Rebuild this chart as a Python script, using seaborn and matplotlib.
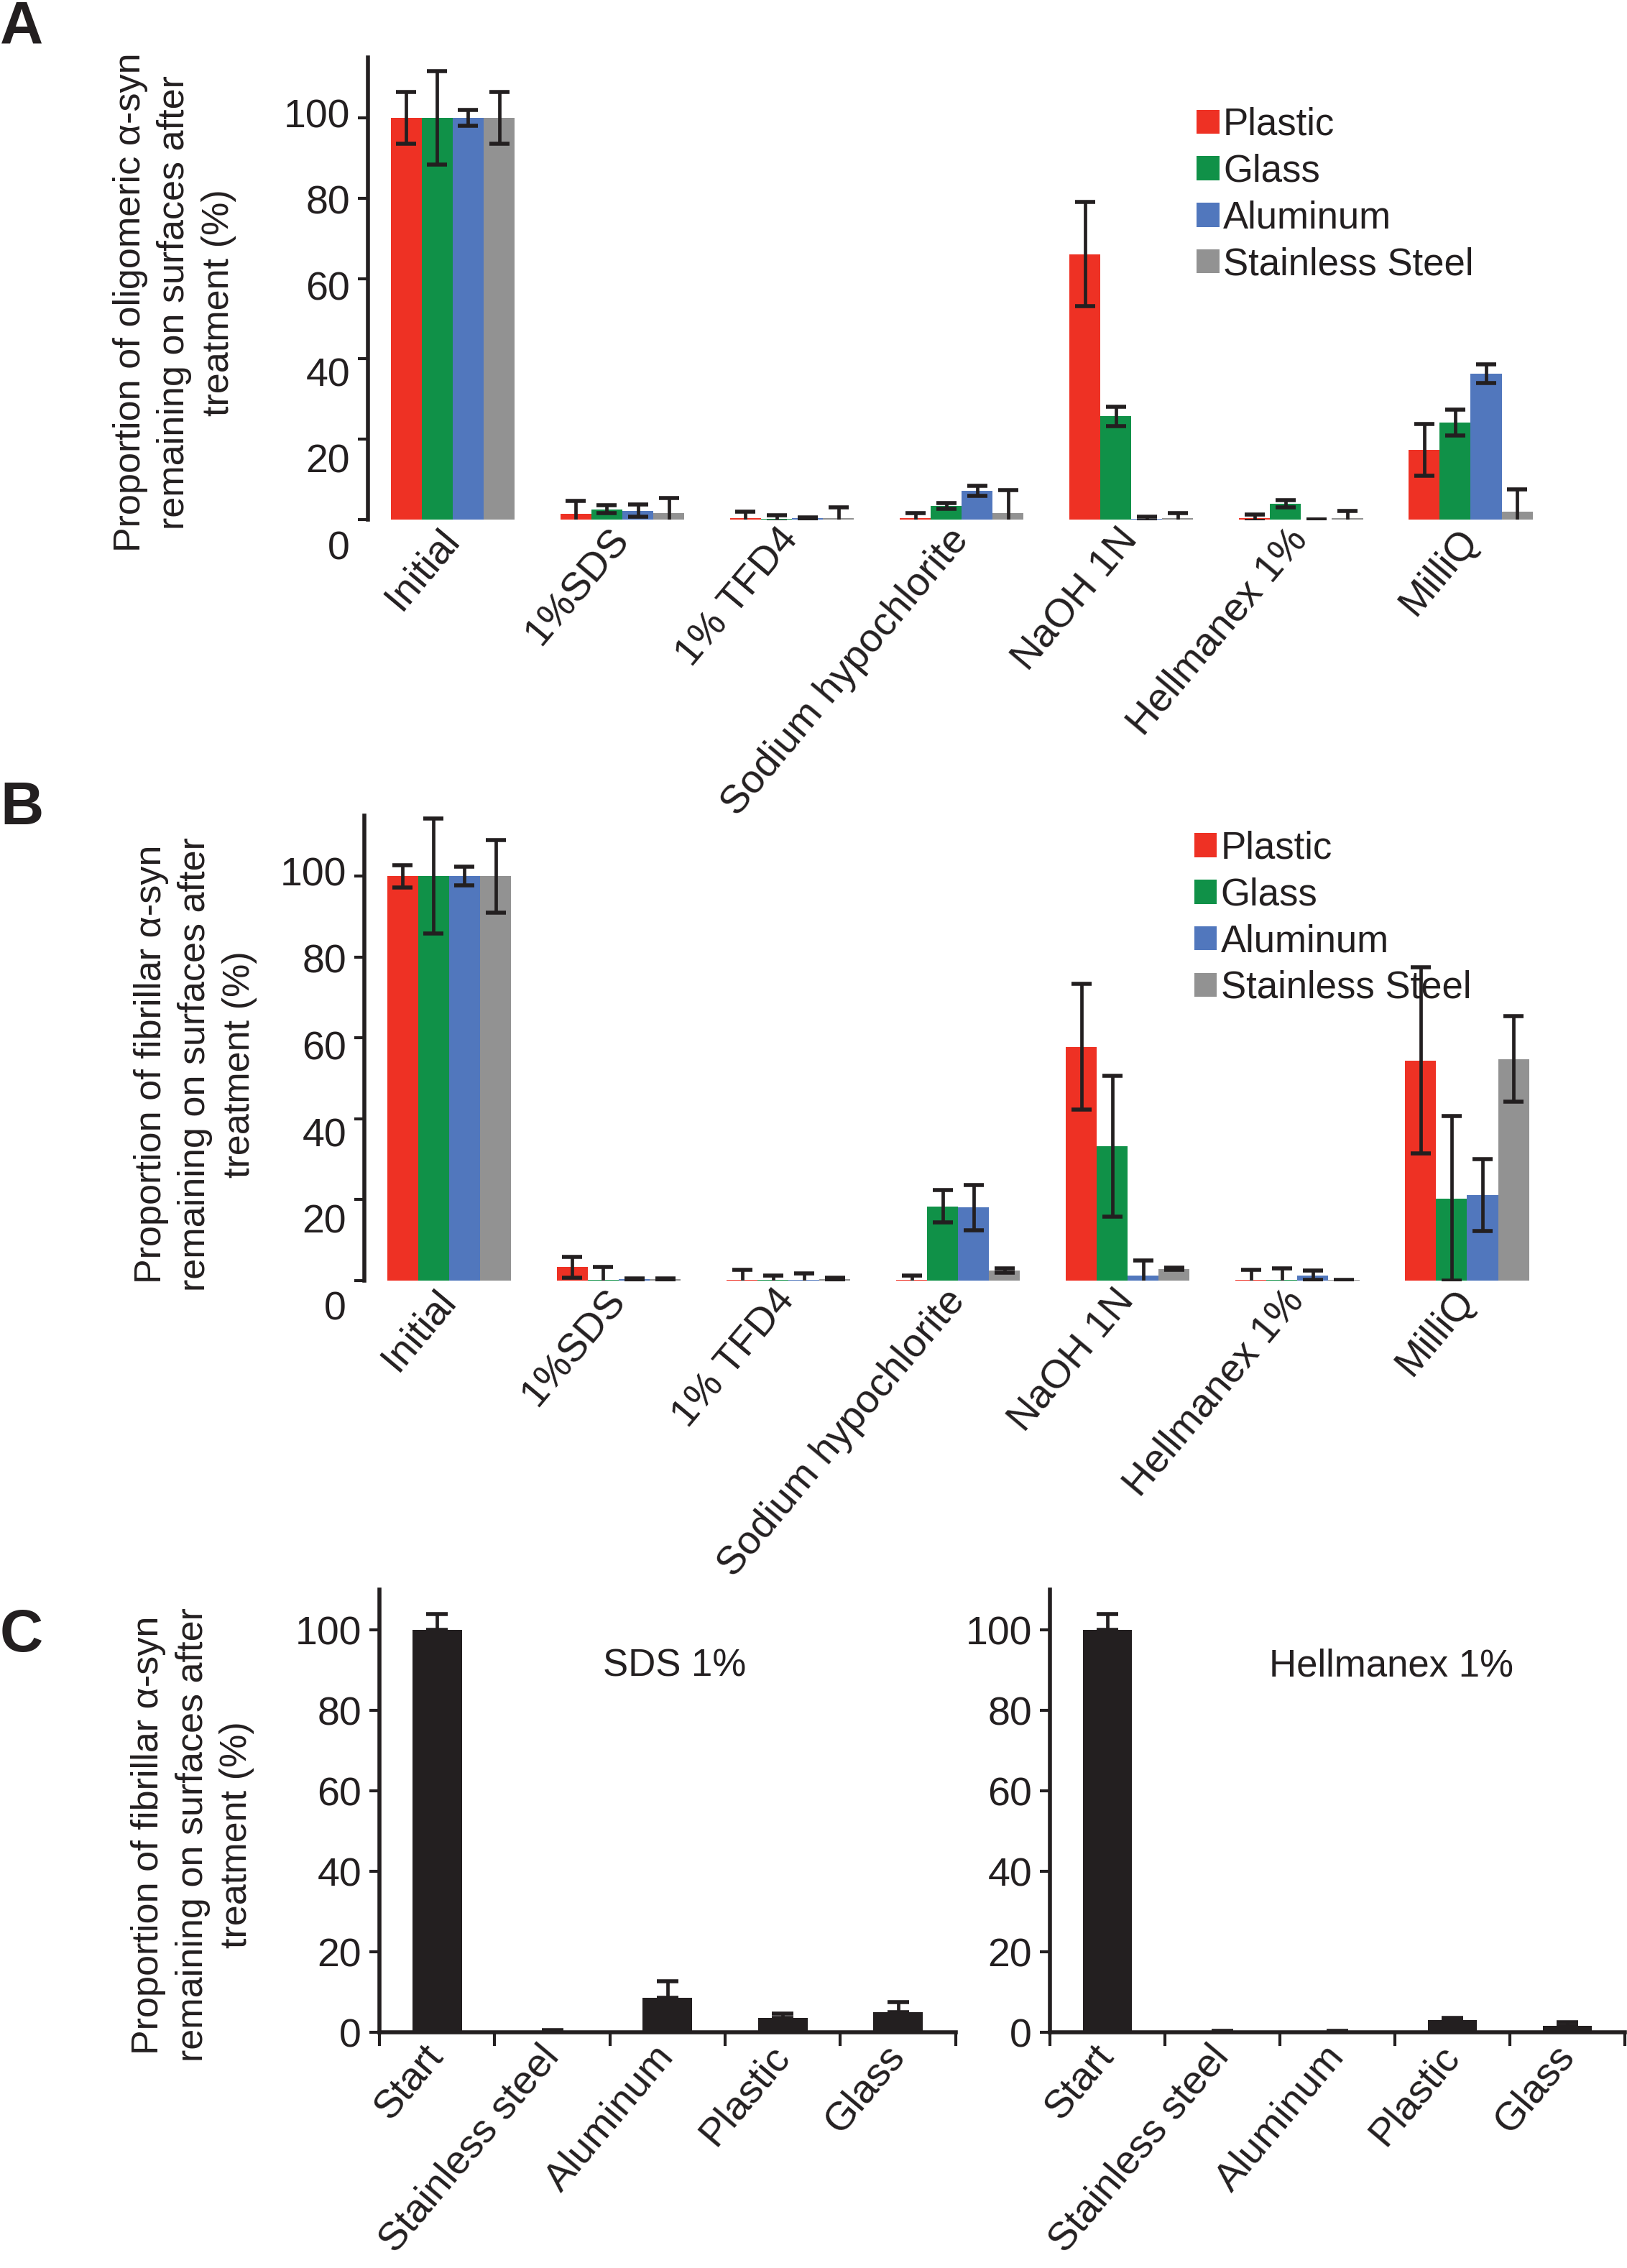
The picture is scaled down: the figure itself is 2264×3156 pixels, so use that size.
import numpy as np
import pandas as pd
import matplotlib
matplotlib.use("Agg")
import matplotlib.pyplot as plt
import matplotlib.transforms as mtransforms
import seaborn as sns

# ---------------- data ----------------
treatments = ["Initial", "1%SDS", "1% TFD4", "Sodium hypochlorite",
              "NaOH 1N", "Hellmanex 1%", "MilliQ"]
surfaces = ["Plastic", "Glass", "Aluminum", "Stainless Steel"]

# Panel A: oligomeric alpha-syn
plastic_a = [100, 1.4, 0.4, 0.3, 66.1, 0.4, 17.4]
plastic_a_err = [6.4, 3.2, 1.6, 1.3, 13.0, 0.8, 6.4]
glass_a = [100, 2.6, 0.2, 3.4, 25.7, 4.0, 24.1]
glass_a_err = [11.6, 0.9, 0.8, 0.7, 2.4, 0.9, 3.2]
alu_a = [100, 2.2, 0.4, 7.2, 0.2, 0.0, 36.3]
alu_a_err = [2.0, 1.5, 0.2, 1.3, 0.5, 0.0, 2.3]
steel_a = [100, 1.6, 0.3, 1.6, 0.3, 0.3, 2.0]
steel_a_err = [6.4, 3.8, 2.7, 5.7, 1.3, 1.9, 5.6]

# Panel B: fibrillar alpha-syn
plastic_b = [100, 3.3, 0.2, 0.2, 57.8, 0.2, 54.4]
plastic_b_err = [2.8, 2.6, 2.4, 1.1, 15.5, 2.4, 23.0]
glass_b = [100, 0.2, 0.2, 18.3, 33.2, 0.2, 20.3]
glass_b_err = [14.2, 3.1, 1.1, 4.0, 17.4, 2.8, 20.3]
alu_b = [100, 0.3, 0.2, 18.1, 1.3, 1.3, 21.1]
alu_b_err = [2.3, 0.3, 1.6, 5.6, 3.7, 1.1, 8.9]
steel_b = [100, 0.3, 0.4, 2.5, 2.9, 0.1, 54.8]
steel_b_err = [9.0, 0.3, 0.3, 0.5, 0.3, 0.1, 10.6]

# Panel C
c_categories = ["Start", "Stainless steel", "Aluminum", "Plastic", "Glass"]
sds_vals = [100, 0.3, 8.6, 3.5, 5.0]
sds_err = [3.9, 0.2, 4.1, 1.1, 2.5]
hell_vals = [100, 0.2, 0.2, 3.0, 1.7]
hell_err = [4.0, 0.1, 0.1, 0.5, 0.8]

yticks = [0, 20, 40, 60, 80, 100]

# ---------------- style ----------------
sns.set_theme(style="ticks")
plt.rcParams["font.family"] = ["Liberation Sans", "DejaVu Sans"]
INK = "#231F20"
plt.rcParams["text.color"] = INK
plt.rcParams["axes.edgecolor"] = INK
plt.rcParams["xtick.color"] = INK
plt.rcParams["ytick.color"] = INK
plt.rcParams["axes.labelcolor"] = INK

palette = {"Plastic": "#EE3124", "Glass": "#109148",
           "Aluminum": "#5177BD", "Stainless Steel": "#929292"}

TICK_FS = 40
LEG_FS = 38
YLAB_FS = 37.5
XLAB_FS = 40
SPINE_W = 4
ERR_W = 3.4
ROT = 50
YLAB_LS = 1.33

fig = plt.figure(figsize=(22.64, 31.56), dpi=100)


def style_left(ax, ymax):
    for s in ["top", "right"]:
        ax.spines[s].set_visible(False)
    ax.spines["left"].set_linewidth(SPINE_W)
    ax.spines["bottom"].set_linewidth(SPINE_W)
    ax.set_ylim(0, ymax)
    ax.set_yticks(yticks)
    ax.tick_params(axis="y", direction="out", length=10, width=3,
                   labelsize=TICK_FS, pad=8)


def rotate_labels(ax):
    for lbl in ax.get_xticklabels():
        lbl.set_rotation(ROT)
        lbl.set_ha("right")
        lbl.set_va("center")
        lbl.set_rotation_mode("anchor")


def spread_ylabels(ax):
    # the reference's tick labels are spaced a little wider than the ticks
    for tick, v in zip(ax.yaxis.get_major_ticks(), yticks):
        dy = -(35 - 0.42 * v) / 100.0
        off = mtransforms.ScaledTranslation(0, dy, fig.dpi_scale_trans)
        tick.label1.set_transform(tick.label1.get_transform() + off)


def grouped_panel(rect, series, errs, ylabel, ylab_xy, leg_anchor):
    ax = fig.add_axes(rect)
    df = pd.DataFrame({
        "treatment": np.tile(treatments, len(surfaces)),
        "surface": np.repeat(surfaces, len(treatments)),
        "value": np.concatenate(series),
    })
    sns.barplot(data=df, x="treatment", y="value", hue="surface",
                order=treatments, hue_order=surfaces, palette=palette,
                width=0.73, saturation=1, errorbar=None, linewidth=0, ax=ax)
    for cont, e in zip(ax.containers, errs):
        xs = [p.get_x() + p.get_width() / 2 for p in cont]
        hs = [p.get_height() for p in cont]
        ax.errorbar(xs, hs, yerr=e, fmt="none", ecolor=INK,
                    elinewidth=ERR_W, capsize=10, capthick=ERR_W + 0.6,
                    zorder=5)
    style_left(ax, 115)
    ax.spines["bottom"].set_visible(False)
    ax.set_xlim(-0.5, 6.37)
    ax.set_xlabel("")
    ax.tick_params(axis="x", length=0, labelsize=XLAB_FS, pad=14)
    rotate_labels(ax)
    spread_ylabels(ax)
    ax.set_ylabel(ylabel, fontsize=YLAB_FS, linespacing=YLAB_LS)
    ax.yaxis.set_label_coords(*ylab_xy)
    handles, labels = ax.get_legend_handles_labels()
    if ax.get_legend() is not None:
        ax.get_legend().remove()
    ax.legend(handles, labels, loc="upper left", bbox_to_anchor=leg_anchor,
              frameon=False, fontsize=LEG_FS, handlelength=0.6,
              handleheight=0.6, handletextpad=0.1, labelspacing=0.28,
              borderpad=0, borderaxespad=0)
    return ax


axA = grouped_panel([0.2261, 0.7709, 0.7164, 0.2037],
                    [plastic_a, glass_a, alu_a, steel_a],
                    [plastic_a_err, glass_a_err, alu_a_err, steel_a_err],
                    "Proportion of oligomeric \u03b1-syn\nremaining on surfaces after\ntreatment (%)",
                    (-0.113, 0.47), (0.711, 0.893))

axB = grouped_panel([0.2239, 0.4354, 0.7164, 0.2050],
                    [plastic_b, glass_b, alu_b, steel_b],
                    [plastic_b_err, glass_b_err, alu_b_err, steel_b_err],
                    "Proportion of fibrillar \u03b1-syn\nremaining on surfaces after\ntreatment (%)",
                    (-0.092, 0.465), (0.712, 0.968))


def single_panel(rect, vals, err, title, title_x):
    ax = fig.add_axes(rect)
    sns.barplot(x=c_categories, y=vals, color=INK, width=0.43,
                saturation=1, errorbar=None, linewidth=0, ax=ax)
    cont = ax.containers[0]
    xs = [p.get_x() + p.get_width() / 2 for p in cont]
    hs = [p.get_height() for p in cont]
    ax.errorbar(xs, hs, yerr=[np.zeros(len(err)), err], fmt="none",
                ecolor=INK, elinewidth=ERR_W, capsize=11,
                capthick=ERR_W + 0.6, zorder=5)
    style_left(ax, 110)
    ax.set_xlim(-0.5, 4.5)
    ax.set_xticks(np.arange(-0.5, 5.0, 1.0), minor=True)
    ax.tick_params(axis="x", which="minor", direction="out", length=14,
                   width=3)
    ax.tick_params(axis="x", which="major", length=0, labelsize=XLAB_FS,
                   pad=18)
    rotate_labels(ax)
    ax.text(title_x, 91, title, ha="center", va="center", fontsize=38)
    return ax


axC1 = single_panel([0.2332, 0.1039, 0.3542, 0.1952], sds_vals, sds_err,
                    "SDS 1%", 2.06)
axC1.set_ylabel("Proportion of fibrillar \u03b1-syn\nremaining on surfaces after\ntreatment (%)",
                fontsize=YLAB_FS, linespacing=YLAB_LS)
axC1.yaxis.set_label_coords(-0.2165, 0.446)
axC2 = single_panel([0.6453, 0.1039, 0.3534, 0.1952], hell_vals, hell_err,
                    "Hellmanex 1%", 2.47)

# panel letters
for letter, ypx in [("A", 60), ("B", 1147), ("C", 2298)]:
    fig.text(0.0, 1 - ypx / 3156, letter, fontsize=60, fontweight="bold",
             ha="left", va="baseline")

fig.savefig("out.png", dpi=100)
